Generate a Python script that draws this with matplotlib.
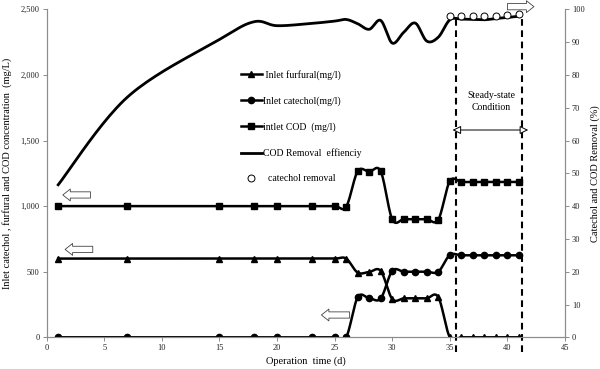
import numpy as np
import matplotlib
matplotlib.use('Agg')
import matplotlib.pyplot as plt
from matplotlib.ticker import StrMethodFormatter

plt.rcParams['font.family'] = ['Liberation Serif', 'DejaVu Serif']

# operation days
days = [1, 7, 15, 18, 20, 23, 25, 26, 27, 28, 29, 30, 31, 32, 33, 34,
        35, 36, 37, 38, 39, 40, 41]
# inlet concentrations (mg/l)
furfural = [600, 600, 600, 600, 600, 600, 600, 600, 493, 498, 506, 292, 297,
            297, 297, 306, 0, 0, 0, 0, 0, 0, 0]
catechol = [0, 0, 0, 0, 0, 0, 0, 0, 305, 298, 296, 506, 500, 500, 500, 500,
            627, 625, 625, 625, 625, 625, 625]
cod_in = [1000, 1000, 1000, 1000, 1000, 1000, 1000, 995, 1265, 1262, 1265,
          899, 900, 900, 900, 897, 1190, 1184, 1184, 1184, 1184, 1184, 1184]
# removal (%)
cod_removal = [46.5, 73.2, 90.8, 96.2, 95.0, 95.7, 96.4, 96.9, 95.6, 93.9,
               96.6, 89.7, 93.0, 95.8, 90.3, 91.5, 96.8, 97.0, 96.9, 96.8,
               97.2, 97.5, 97.9]
cat_days = [35, 36, 37, 38, 39, 40, 41]
cat_removal = [98.0, 98.0, 98.0, 98.0, 98.0, 98.4, 98.5]

steady_start = 35.5
steady_end = 41.3


def smooth(x, y, n=24):
    # excel style smoothed line (bezier through the points)
    pts = np.column_stack([x, y]).astype(float)
    out = []
    t = np.linspace(0, 1, n)[:, None]
    for i in range(len(pts) - 1):
        p0 = pts[i - 1] if i > 0 else pts[i]
        p1 = pts[i]
        p2 = pts[i + 1]
        p3 = pts[i + 2] if i + 2 < len(pts) else pts[i + 1]
        c1 = p1 + (p2 - p0) / 6
        c2 = p2 - (p3 - p1) / 6
        seg = (1 - t)**3 * p1 + 3 * (1 - t)**2 * t * c1 + 3 * (1 - t) * t**2 * c2 + t**3 * p2
        out.append(seg if i == 0 else seg[1:])
    s = np.vstack(out)
    return s[:, 0], s[:, 1]


fig = plt.figure(figsize=(6, 3.69), dpi=100)
ax = fig.add_axes([0.0778, 0.0859, 0.8639, 0.8889])
ax2 = ax.twinx()

lw = 1.8
ms = 4.5
h = []
for vals, mk, lab in [(furfural, '^', ' Inlet furfural(mg/l)'),
                      (catechol, 'o', 'Inlet catechol(mg/l)'),
                      (cod_in, 's', 'intlet COD  (mg/l)')]:
    sx, sy = smooth(days, vals)
    ax.plot(sx, sy, color='black', lw=lw, zorder=3)
    ax.plot(days, vals, linestyle='none', marker=mk, ms=ms, color='black', zorder=4)
    h.append(plt.Line2D([], [], color='black', lw=lw, marker=mk, ms=ms, label=lab))

sx, sy = smooth(days, cod_removal)
ax2.plot(sx, sy, color='black', lw=2.0, zorder=3)
h.append(plt.Line2D([], [], color='black', lw=2.0, label='COD Removal  effienciy'))
ax2.plot(cat_days, cat_removal, linestyle='none', marker='o', ms=5,
         mfc='white', mec='black', mew=0.7, zorder=4)
h.append(plt.Line2D([], [], linestyle='none', marker='o', ms=5, mfc='white',
                    mec='black', mew=0.7, label='  catechol removal'))

ax.set_xlim(0, 45)
ax.set_ylim(0, 2500)
ax2.set_ylim(0, 100)
ax.set_xticks(range(0, 46, 5))
ax.set_yticks(range(0, 2501, 500))
ax2.set_yticks(range(0, 101, 10))
ax.yaxis.set_major_formatter(StrMethodFormatter('{x:,.0f}'))

for a in (ax, ax2):
    for sp in a.spines.values():
        sp.set_color('#8c8c8c')
        sp.set_linewidth(0.8)
    a.spines['top'].set_visible(False)
    a.tick_params(labelsize=6, colors='#8c8c8c', labelcolor='#222222',
                  length=3, width=0.7, pad=2)

ax.set_xlabel('Operation  time (d)', fontsize=7.5, labelpad=3)
ax.set_ylabel('Inlet catechol , furfural and COD concentration  (mg/L)',
              fontsize=7.5, labelpad=6)
ax2.set_ylabel('Catechol and COD Removal (%)', fontsize=7.5, labelpad=4)

# steady state box
for xv in (steady_start, steady_end):
    ax2.plot([xv, xv], [-4.5, 98.2], color='black', lw=1.5,
             linestyle=(0, (3.2, 2.2)), clip_on=False, zorder=2)
ax2.annotate('', xy=(41.8, 63.2), xytext=(35.24, 63.2),
             arrowprops=dict(arrowstyle='<|-|>,head_length=0.5,head_width=0.25',
                             fc='white', ec='black', lw=0.7,
                             shrinkA=0, shrinkB=0, mutation_scale=10))
ax2.text(38.6, 71.9, 'Steady-state\nCondition', ha='center', va='center',
         fontsize=7, linespacing=1.3)

# open block arrows pointing to the axis
for x0, x1, yv in [(3.8, 1.4, 43.4), (4.0, 1.6, 26.8), (26.3, 23.85, 6.8),
                   (40.0, 42.3, 100.8)]:
    ax2.annotate('', xy=(x1, yv), xytext=(x0, yv), annotation_clip=False,
                 arrowprops=dict(arrowstyle='simple,head_length=0.6,head_width=0.95,tail_width=0.5',
                                 fc='white', ec='#444444', lw=0.6,
                                 shrinkA=0, shrinkB=0, mutation_scale=9))

leg = ax2.legend(handles=h, loc='upper left', bbox_to_anchor=(0.401, 0.810),
                 bbox_transform=fig.transFigure, frameon=False, fontsize=7,
                 handlelength=2.2, handletextpad=0.1, labelspacing=1.68,
                 borderpad=0, borderaxespad=0)

fig.savefig('out.png', dpi=100)
